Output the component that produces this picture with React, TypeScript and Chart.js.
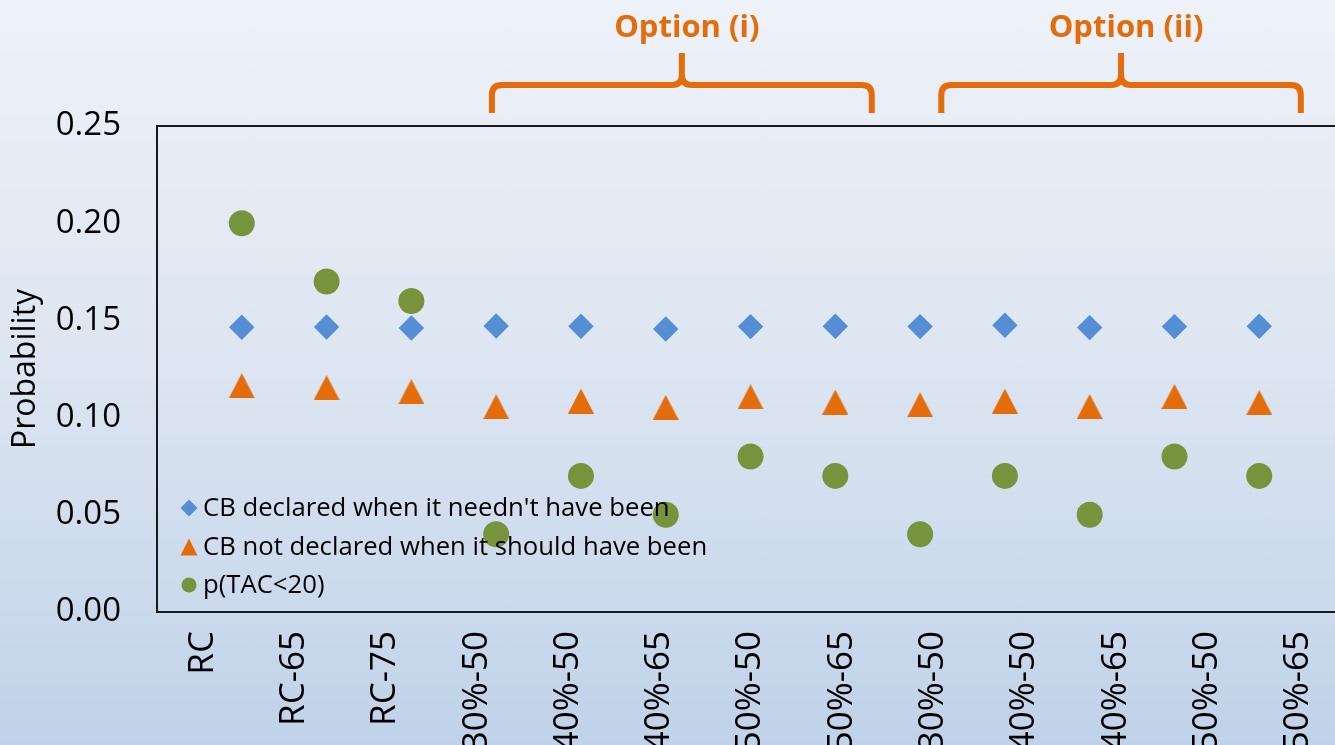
import React, { useEffect, useRef } from 'react';
import { Chart, registerables } from 'chart.js';

Chart.register(...registerables);

// ---- data ----
const categories = ['RC', 'RC-65', 'RC-75', '30%-50', '40%-50', '40%-65', '50%-50', '50%-65', '30%-50', '40%-50', '40%-65', '50%-50', '50%-65'];
const cbDeclaredNeedless = [0.1465, 0.1466, 0.1461, 0.1471, 0.147, 0.1456, 0.1468, 0.147, 0.1468, 0.1475, 0.1463, 0.1468, 0.147];
const cbNotDeclared = [0.1164, 0.1154, 0.1133, 0.1056, 0.1085, 0.1052, 0.1107, 0.108, 0.1066, 0.1085, 0.1057, 0.1109, 0.1077];
const pTacBelow20 = [0.2, 0.17, 0.16, 0.04, 0.07, 0.05, 0.08, 0.07, 0.04, 0.07, 0.05, 0.08, 0.07];
const seriesNames = ["CB declared when it needn't have been", 'CB not declared when it should have been', 'p(TAC<20)'];
const yTickValues = [0, 0.05, 0.1, 0.15, 0.2, 0.25];
const optionGroups = [
  { label: 'Option (i)', from: 3.95, to: 8.43 },
  { label: 'Option (ii)', from: 9.25, to: 13.49 },
];

const BLUE = '#558ED5';
const ORANGE = '#E46C0A';
const GREEN = '#77933C';
const FONT = "'Open Sans', 'Liberation Sans', sans-serif";

function triangleCanvas(w: number, h: number, color: string) {
  const c = document.createElement('canvas');
  c.width = w;
  c.height = h;
  const g = c.getContext('2d')!;
  g.fillStyle = color;
  g.beginPath();
  g.moveTo(w / 2, 0);
  g.lineTo(w, h);
  g.lineTo(0, h);
  g.closePath();
  g.fill();
  return c;
}

const framePlugin = {
  id: 'frame',
  beforeDatasetsDraw(chart: any) {
    const { ctx, chartArea } = chart;
    ctx.save();
    ctx.strokeStyle = '#1a1a1a';
    ctx.lineWidth = 2;
    ctx.strokeRect(chartArea.left, chartArea.top, chartArea.right - chartArea.left, chartArea.bottom - chartArea.top);
    ctx.restore();
  },
};

const bracketPlugin = {
  id: 'brackets',
  afterDraw(chart: any) {
    const { ctx } = chart;
    const xs = chart.scales.x;
    const top = chart.chartArea.top;
    const yBottom = top - 13;
    const yH = top - 41;
    const yPeak = top - 73;
    const r = 10;
    ctx.save();
    ctx.strokeStyle = ORANGE;
    ctx.lineWidth = 6;
    ctx.lineCap = 'butt';
    ctx.lineJoin = 'round';
    optionGroups.forEach((g) => {
      const x1 = xs.getPixelForValue(g.from);
      const x2 = xs.getPixelForValue(g.to);
      const xm = (x1 + x2) / 2;
      ctx.beginPath();
      ctx.moveTo(x1, yBottom);
      ctx.lineTo(x1, yH + r);
      ctx.quadraticCurveTo(x1, yH, x1 + r, yH);
      ctx.lineTo(xm - r, yH);
      ctx.quadraticCurveTo(xm, yH, xm, yH - r);
      ctx.lineTo(xm, yPeak);
      ctx.moveTo(xm, yH - r);
      ctx.quadraticCurveTo(xm, yH, xm + r, yH);
      ctx.lineTo(x2 - r, yH);
      ctx.quadraticCurveTo(x2, yH, x2, yH + r);
      ctx.lineTo(x2, yBottom);
      ctx.stroke();
      ctx.fillStyle = ORANGE;
      ctx.font = `bold 31px ${FONT}`;
      ctx.textAlign = 'center';
      ctx.textBaseline = 'middle';
      ctx.fillText(g.label, xm + 5, top - 98);
    });
    ctx.restore();
  },
};

const legendPlugin = {
  id: 'insideLegend',
  afterDatasetsDraw(chart: any) {
    const { ctx, chartArea } = chart;
    const mx = chartArea.left + 32;
    const tx = chartArea.left + 46;
    const rows = [chartArea.bottom - 104, chartArea.bottom - 65, chartArea.bottom - 27];
    ctx.save();
    // diamond
    ctx.fillStyle = BLUE;
    ctx.beginPath();
    ctx.moveTo(mx, rows[0] - 8.5);
    ctx.lineTo(mx + 8.5, rows[0]);
    ctx.lineTo(mx, rows[0] + 8.5);
    ctx.lineTo(mx - 8.5, rows[0]);
    ctx.closePath();
    ctx.fill();
    // triangle
    ctx.fillStyle = ORANGE;
    ctx.beginPath();
    ctx.moveTo(mx, rows[1] - 8.5);
    ctx.lineTo(mx + 8.5, rows[1] + 8.5);
    ctx.lineTo(mx - 8.5, rows[1] + 8.5);
    ctx.closePath();
    ctx.fill();
    // circle
    ctx.fillStyle = GREEN;
    ctx.beginPath();
    ctx.arc(mx, rows[2], 7.5, 0, Math.PI * 2);
    ctx.fill();
    ctx.fillStyle = '#000';
    ctx.font = `25.7px ${FONT}`;
    ctx.textAlign = 'left';
    ctx.textBaseline = 'middle';
    seriesNames.forEach((name, i) => ctx.fillText(name, tx, rows[i] + 1));
    ctx.restore();
  },
};

export default function App() {
  const ref = useRef<HTMLCanvasElement>(null);
  useEffect(() => {
    const toPts = (arr: number[]) => arr.map((v, i) => ({ x: i + 1, y: v }));
    const tri = triangleCanvas(26, 25, ORANGE);
    const chart = new Chart(ref.current!, {
      type: 'scatter',
      data: {
        datasets: [
          {
            label: seriesNames[0],
            data: toPts(cbDeclaredNeedless),
            pointStyle: 'rectRot',
            pointRadius: 12.7,
            pointBorderWidth: 0,
            backgroundColor: BLUE,
            borderColor: BLUE,
          },
          {
            label: seriesNames[1],
            data: toPts(cbNotDeclared),
            pointStyle: tri as any,
            pointRadius: 13,
            pointBorderWidth: 0,
            backgroundColor: ORANGE,
            borderColor: ORANGE,
          },
          {
            label: seriesNames[2],
            data: toPts(pTacBelow20),
            pointStyle: 'circle',
            pointRadius: 13,
            pointBorderWidth: 0,
            backgroundColor: GREEN,
            borderColor: GREEN,
          },
        ],
      },
      options: {
        responsive: false,
        animation: false,
        layout: { padding: { top: 126, left: 0, right: 3, bottom: 0 } },
        plugins: {
          legend: { display: false },
          tooltip: { enabled: false },
        },
        scales: {
          x: {
            type: 'linear',
            min: 0,
            max: categories.length + 1,
            display: false,
          },
          x2: {
            type: 'category',
            labels: categories,
            position: 'bottom',
            offset: true,
            grid: { display: false, drawTicks: false },
            border: { display: false },
            ticks: {
              autoSkip: false,
              minRotation: 90,
              maxRotation: 90,
              padding: 19,
              color: '#000',
              font: { size: 35, family: FONT },
            },
            afterFit(scale: any) {
              scale.height = 133;
            },
          },
          y: {
            type: 'linear',
            min: 0,
            max: 0.25,
            afterBuildTicks(scale: any) {
              scale.ticks = yTickValues.map((v) => ({ value: v }));
            },
            grid: { display: false, drawTicks: false },
            border: { display: false },
            ticks: {
              padding: 36,
              color: '#000',
              font: { size: 33, family: FONT },
              callback: (v: any) => Number(v).toFixed(2),
            },
            title: {
              display: true,
              text: 'Probability',
              color: '#000',
              font: { size: 32, family: FONT },
              padding: { top: 7, bottom: 0 },
            },
            afterFit(scale: any) {
              scale.width = 157;
            },
          },
        },
      },
      plugins: [framePlugin, bracketPlugin, legendPlugin],
    } as any);
    return () => chart.destroy();
  }, []);

  return (
    <div
      style={{
        position: 'fixed',
        left: 0,
        top: 0,
        width: 1335,
        height: 745,
        overflow: 'hidden',
        background: 'linear-gradient(180deg, #EEF2F9 0%, #DCE5F1 50%, #C0D2E9 100%)',
      }}
    >
      <canvas ref={ref} width={1360} height={745} style={{ display: 'block', width: 1360, height: 745 }} />
    </div>
  );
}
